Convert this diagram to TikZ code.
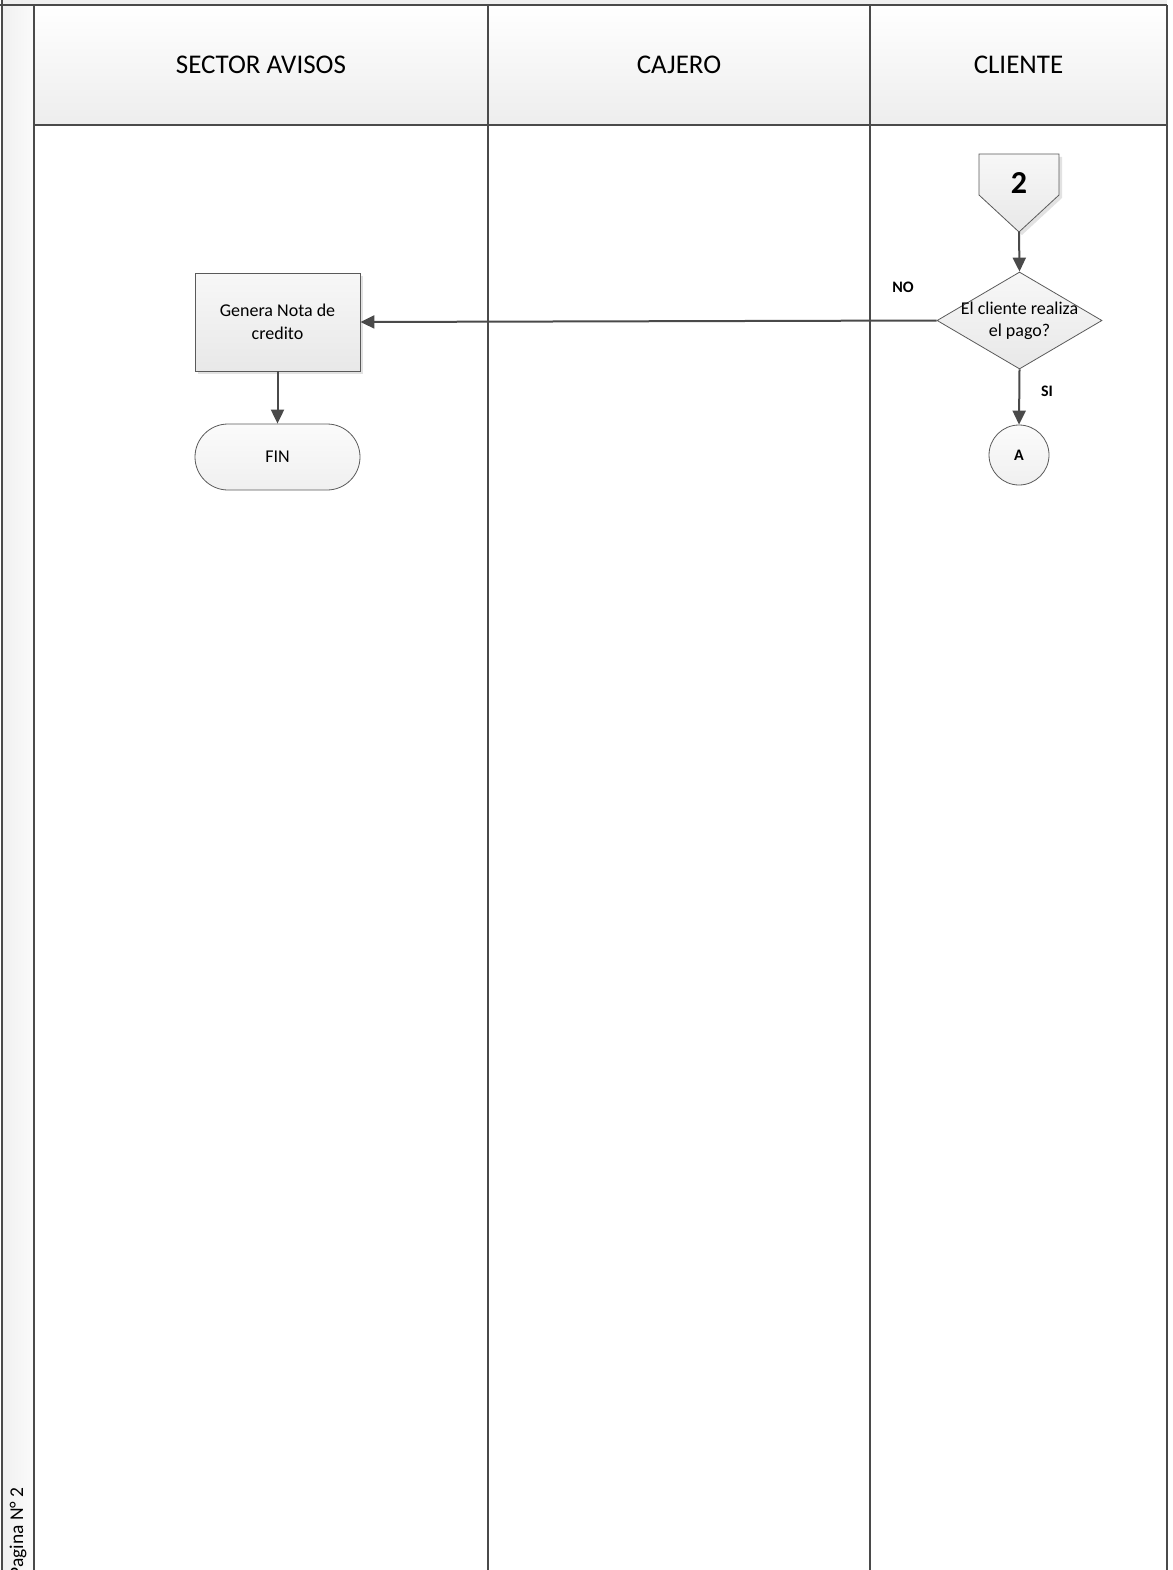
\documentclass[tikz,border=0pt]{standalone}
\usepackage{fontspec}
\setmainfont{Carlito}
\usetikzlibrary{shapes.geometric,shapes.misc,arrows.meta,shadows}

\definecolor{ln}{HTML}{4A4A4A}
\definecolor{bord}{HTML}{5A5A5A}

\tikzset{
  lane/.style={draw=ln, line width=2pt},
  hdrcell/.style={top color=white, bottom color=gray!14},
  hdrtext/.style={font=\fontsize{27}{32}\selectfont, text=black},
  proc/.style={draw=bord, line width=0.8pt, top color=gray!6, bottom color=gray!18,
    minimum width=165pt, minimum height=98pt, inner sep=0pt, align=center,
    font=\fontsize{18}{23}\selectfont,
    drop shadow={shadow xshift=3pt, shadow yshift=-3pt, fill=gray!45, opacity=.5}},
  term/.style={draw=bord, line width=0.8pt, rounded rectangle, top color=gray!3, bottom color=gray!12,
    minimum width=165pt, minimum height=66pt, inner sep=0pt, font=\fontsize{18}{22}\selectfont},
  decision/.style={draw=bord, line width=0.8pt, diamond, top color=gray!6, bottom color=gray!18,
    minimum width=165pt, minimum height=97pt, inner sep=0pt},
  conn/.style={draw=bord, line width=0.8pt, circle, top color=gray!3, bottom color=gray!12,
    minimum size=60pt, inner sep=0pt, font=\bfseries\fontsize{16}{19}\selectfont},
  flow/.style={draw=ln, line width=2pt, -{Triangle[length=14pt, width=13pt]}},
  lbl/.style={font=\bfseries\fontsize{16}{19}\selectfont, inner sep=0pt}
}

\begin{document}
\begin{tikzpicture}[x=1pt, y=-1pt]
\useasboundingbox (0,0) rectangle (1172,1570);

% pool frame: title strip on top, side strip on the left
\fill[gray!12] (1,0) rectangle (1167,5);
\shade[left color=gray!12, right color=gray!3] (1,5) rectangle (34,1570);

% lane headers
\shade[hdrcell] (34,5) rectangle (488,125);
\shade[hdrcell] (488,5) rectangle (870,125);
\shade[hdrcell] (870,5) rectangle (1167,125);

\node[hdrtext] (h1) at (261,65) {SECTOR AVISOS};
\node[hdrtext] (h2) at (679,65) {CAJERO};
\node[hdrtext] (h3) at (1018.5,65) {CLIENTE};

% lane borders
\draw[lane] (0,5) -- (1167,5);
\draw[lane] (34,125) -- (1167,125);
\draw[lane] (1.5,0) -- (1.5,1570);
\foreach \lx in {34,488,870,1167}
  \draw[lane] (\lx,5) -- (\lx,1570);

% page label on the side strip
\node[rotate=90, anchor=east, inner sep=0pt, font=\fontsize{19.5}{23}\selectfont] (pag) at (18,1487) {Pagina N° 2};

% off-page connector 2
\fill[gray!45, opacity=.5] (982,157) -- (1062,157) -- (1062,198) -- (1022,235) -- (982,198) -- cycle;
\draw[draw=bord, line width=0.8pt, top color=gray!6, bottom color=gray!18]
  (979,154) -- (1059,154) -- (1059,195) -- (1019,232) -- (979,195) -- cycle;
\node[font=\bfseries\fontsize{32}{36}\selectfont, inner sep=0pt] (off2) at (1019,183) {2};
\coordinate (off2tip) at (1019,232);

% decision
\node[decision] (dec) at (1019.5,320.5) {};
\node[align=center, font=\fontsize{18}{22}\selectfont, inner sep=0pt] (dectext) at (1019.5,321)
  {El cliente realiza\\el pago?};

% connector A
\node[conn] (ca) at (1019,455) {A};

% process and end
\node[proc] (nota) at (277.5,322) {Genera Nota de\\credito};
\node[term] (fin) at (277.5,457) {FIN};

% flows
\draw[flow] (off2tip) -- (dec.north);
\draw[flow] (dec.south) -- (ca.north);
\draw[flow] (dec.west) -- (nota.east);
\draw[flow] (nota.south) -- (fin.north);

% branch labels
\node[lbl] (no) at (903,287) {NO};
\node[lbl] (si) at (1047,391) {SI};
\end{tikzpicture}
\end{document}
